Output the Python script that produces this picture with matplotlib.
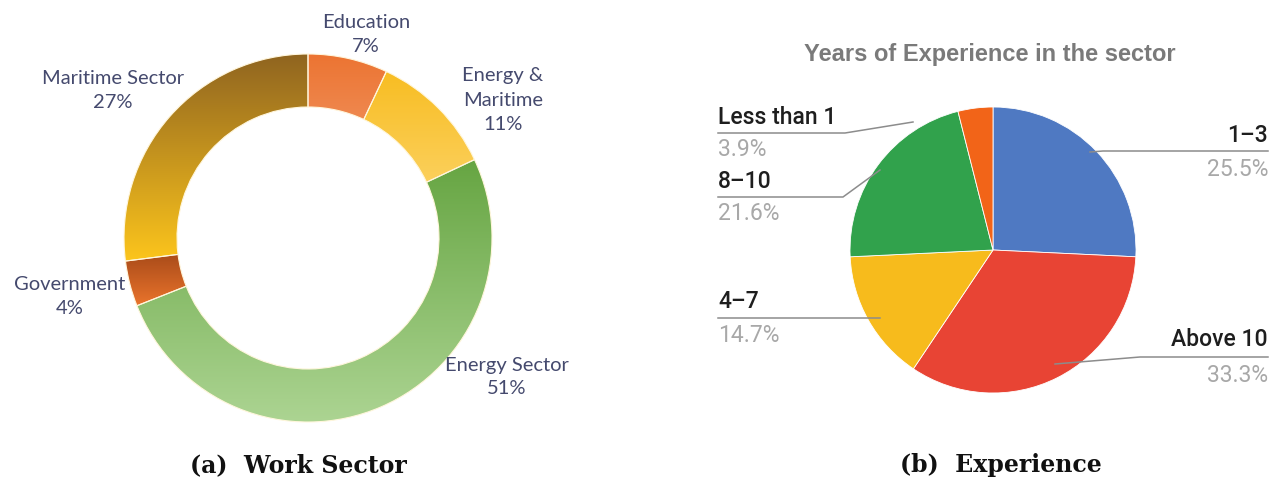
import numpy as np
import matplotlib
matplotlib.use("Agg")
import matplotlib.pyplot as plt
from matplotlib.colors import LinearSegmentedColormap

H = 482

# work sector donut (clockwise from 12 o'clock)
sector_names = ["Education", "Energy &\nMaritime", "Energy Sector", "Government", "Maritime Sector"]
sector_pct = [7, 11, 51, 4, 27]
sector_top = ["#ec7432", "#f8bd22", "#66a542", "#963f14", "#8f6420"]
sector_bot = ["#f4ad84", "#fdd978", "#acd492", "#ea742c", "#fcc51c"]

# experience pie (clockwise from 12 o'clock)
exp_names = ["1\u20133", "Above 10", "4\u20137", "8\u201310", "Less than 1"]
exp_pct = [25.5, 33.3, 14.7, 21.6, 3.9]
exp_colors = ["#4f79c2", "#e84434", "#f7bb1c", "#31a24c", "#f26418"]

fig = plt.figure(figsize=(12.78, 4.82), dpi=100)
ax = fig.add_axes([0, 0, 1, 1])

# ---- (a) donut with gradients ----
wedges, _ = ax.pie(sector_pct, center=(308, H - 238), radius=184, startangle=90,
                   counterclock=False, wedgeprops=dict(width=53, edgecolor="#fff6dc", linewidth=0.8))
for w, c1, c2 in zip(wedges, sector_top, sector_bot):
    v = w.get_path().vertices
    x0, x1 = v[:, 0].min(), v[:, 0].max()
    y0, y1 = v[:, 1].min(), v[:, 1].max()
    cmap = LinearSegmentedColormap.from_list("g", [c2, c1])
    grad = np.linspace(0, 1, 256).reshape(-1, 1)
    im = ax.imshow(grad, cmap=cmap, origin="lower", extent=(x0, x1, y0, y1),
                   aspect="auto", interpolation="bilinear", zorder=1)
    im.set_clip_path(w)
    w.set_facecolor("none")
    w.set_zorder(2)

lab_col = "#454a6e"
lab_pos = [(366, 35), (503, 100), (507, 377), (70, 296), (113, 91)]
for name, p, (x, y) in zip(sector_names, sector_pct, lab_pos):
    ax.text(x, H - y, f"{name}\n{p}%", ha="center", va="center", fontsize=14.5,
            family="Lato", color=lab_col, linespacing=1.5)

# ---- (b) pie ----
ax.pie(exp_pct, center=(993, H - 250), radius=143, startangle=90, counterclock=False,
       colors=exp_colors, wedgeprops=dict(edgecolor="white", linewidth=0.6))

ax.text(990, H - 55, "Years of Experience in the sector", ha="center", va="center",
        fontsize=17, fontweight="bold", family="Liberation Sans", color="#7a7a7a")

line_col = "#8c8c8c"
fs = 16.5
# left side labels: (name index, label y, line y, leader path)
left = [
    (4, 117, 133, [(718, 133), (845, 133), (913, 122)]),
    (3, 181, 197, [(718, 197), (843, 197), (880, 170)]),
    (2, 302, 318, [(718, 318), (880, 318)]),
]
for i, ty, ly, path in left:
    xs, ys = zip(*path)
    ax.plot(xs, [H - y for y in ys], color=line_col, lw=1.1)
    ax.text(718, H - ty, exp_names[i], ha="left", va="center", fontsize=fs,
            family="Roboto", fontweight="medium", color="#1e1e1e")
    ax.text(718, H - (ly + 17), f"{exp_pct[i]}%", ha="left", va="center", fontsize=fs,
            family="Roboto", color="#a8a8a8")

right = [
    (0, 135, 151, [(1090, 152), (1103, 151), (1268, 151)]),
    (1, 340, 357, [(1055, 364), (1140, 357), (1268, 357)]),
]
for i, ty, ly, path in right:
    xs, ys = zip(*path)
    ax.plot(xs, [H - y for y in ys], color=line_col, lw=1.1)
    ax.text(1268, H - ty, exp_names[i], ha="right", va="center", fontsize=fs,
            family="Roboto", fontweight="medium", color="#1e1e1e")
    ax.text(1268, H - (ly + 18), f"{exp_pct[i]}%", ha="right", va="center", fontsize=fs,
            family="Roboto", color="#a8a8a8")

# captions
ax.text(298, H - 465, "(a)  Work Sector", ha="center", va="center", fontsize=17,
        fontweight="bold", family="DejaVu Serif", color="#111111")
ax.text(1001, H - 465, "(b)  Experience", ha="center", va="center", fontsize=17,
        fontweight="bold", family="DejaVu Serif", color="#111111")

ax.set_xlim(0, 1278)
ax.set_ylim(0, H)
ax.set_aspect("auto")
ax.axis("off")

fig.savefig("out.png", dpi=100, facecolor="white")
